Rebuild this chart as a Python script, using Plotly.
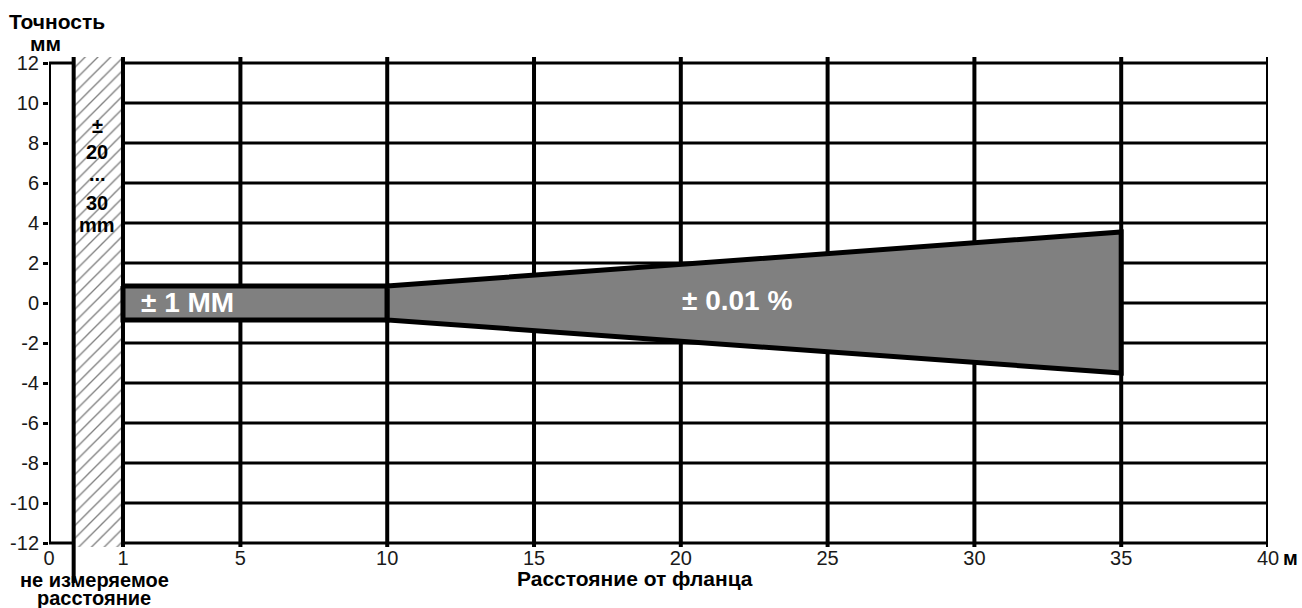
import plotly.graph_objects as go

# ---- data ----
x_tick_values = [0, 1, 5, 10, 15, 20, 25, 30, 35, 40]
x_tick_labels = ["0", "1", "5", "10", "15", "20", "25", "30", "35", "40"]
y_tick_values = [-12, -10, -8, -6, -4, -2, 0, 2, 4, 6, 8, 10, 12]
y_tick_labels = ["-12", "-10", "-8", "-6", "-4", "-2", "0", "2", "4", "6", "8", "10", "12"]

band_x = [1, 10]          # ± 1 mm zone (m)
band_half = [0.85, 0.85]  # half-width as drawn (mm)
cone_x = [10, 35]         # ± 0.01 % zone (m)
cone_upper = [0.85, 3.55]
cone_lower = [-0.85, -3.5]
dead_zone = [0, 1]        # not measurable distance (m)

# ---- display scale: 0..1 m shown stretched ----
STRETCH = 2.52
def xd(v):
    return v if v >= 1 else 1 - (1 - v) * STRETCH

X_MIN, X_MAX = xd(0), 40
HATCH_LEFT = -0.68
Y_MIN, Y_MAX = -12.3, 12.4

W, H = 1302, 608
ML, MR, MT, MB = 49, 34, 55, 59
PW, PH = W - ML - MR, H - MT - MB

def px(x):
    return (x - ML) / PW
def py(y):
    return (MT + PH - y) / PH
def dpx(d):
    return (d - X_MIN) / (X_MAX - X_MIN)

FONT = "Arial, Liberation Sans, sans-serif"

fig = go.Figure()

# hatched non-measurable zone
fig.add_trace(go.Scatter(
    x=[HATCH_LEFT, xd(dead_zone[1]), xd(dead_zone[1]), HATCH_LEFT, HATCH_LEFT],
    y=[-12.2, -12.2, 12.3, 12.3, -12.2],
    mode="lines", fill="toself", line=dict(width=0, color="rgba(0,0,0,0)"),
    fillcolor="white",
    fillpattern=dict(shape="/", fgcolor="#000000", bgcolor="white", size=9, solidity=0.15),
    hoverinfo="skip", showlegend=False))

# ± 1 mm band
fig.add_trace(go.Scatter(
    x=[band_x[0], band_x[1], band_x[1], band_x[0], band_x[0]],
    y=[band_half[0], band_half[1], -band_half[1], -band_half[0], band_half[0]],
    mode="lines", fill="toself", fillcolor="#808080",
    line=dict(color="black", width=5), hoverinfo="skip", showlegend=False))

# ± 0.01 % cone
fig.add_trace(go.Scatter(
    x=[cone_x[0], cone_x[1], cone_x[1], cone_x[0], cone_x[0]],
    y=[cone_upper[0], cone_upper[1], cone_lower[1], cone_lower[0], cone_upper[0]],
    mode="lines", fill="toself", fillcolor="#808080",
    line=dict(color="black", width=5), hoverinfo="skip", showlegend=False))

shapes = []
for yv in y_tick_values:
    shapes.append(dict(type="line", xref="x", yref="y", x0=1, x1=40, y0=yv, y1=yv,
                       line=dict(color="black", width=3), layer="below"))
for yv in (-12, 12):
    shapes.append(dict(type="line", xref="x", yref="y", x0=X_MIN, x1=HATCH_LEFT, y0=yv, y1=yv,
                       line=dict(color="black", width=3), layer="below"))
for xv in x_tick_values[1:]:
    shapes.append(dict(type="line", xref="x", yref="y", x0=xd(xv), x1=xd(xv), y0=-12.2, y1=12.3,
                       line=dict(color="black", width=4),
                       layer="above" if xv == 1 else "below"))
shapes.append(dict(type="line", xref="x", yref="y", x0=X_MIN, x1=X_MIN, y0=-12, y1=12,
                   line=dict(color="black", width=4), layer="above"))
shapes.append(dict(type="line", xref="paper", yref="paper",
                   x0=dpx(HATCH_LEFT), x1=dpx(HATCH_LEFT), y0=py(583), y1=py(57),
                   line=dict(color="black", width=4), layer="above"))

annotations = [
    dict(text="<b>Точность</b>", x=px(57), y=py(22), size=21),
    dict(text="<b>мм</b>", x=px(45), y=py(43), size=21),
    dict(text="<b>±</b>", x=px(97), y=py(126), size=20),
    dict(text="<b>20</b>", x=px(97), y=py(152), size=20),
    dict(text="<b>...</b>", x=px(97), y=py(174), size=20),
    dict(text="<b>30</b>", x=px(97), y=py(203), size=20),
    dict(text="<b>mm</b>", x=px(97), y=py(225), size=20),
    dict(text="<b>± 1 MM</b>", x=px(187), y=py(302), size=28, color="white"),
    dict(text="<b>± 0.01 %</b>", x=px(737), y=py(300), size=28, color="white"),
    dict(text="<b>м</b>", x=px(1290), y=py(558), size=20),
    dict(text="<b>Расстояние от фланца</b>", x=px(635), y=py(578), size=21),
    dict(text="<b>не измеряемое</b>", x=px(94), y=py(580), size=20),
    dict(text="<b>расстояние</b>", x=px(94), y=py(598), size=20),
]
for a in annotations:
    size = a.pop("size")
    color = a.pop("color", "black")
    a.update(xref="paper", yref="paper", showarrow=False, xanchor="center", yanchor="middle",
             font=dict(family=FONT, color=color, size=size))

fig.update_layout(
    width=W, height=H,
    margin=dict(l=ML, r=MR, t=MT, b=MB, autoexpand=False),
    paper_bgcolor="white", plot_bgcolor="white",
    font=dict(family=FONT, size=20, color="#1a1a1a"),
    shapes=shapes, annotations=annotations,
    xaxis=dict(range=[X_MIN, X_MAX], tickvals=[xd(v) for v in x_tick_values],
               ticktext=x_tick_labels, ticks="", showgrid=False, zeroline=False,
               showline=False, fixedrange=True, automargin=False, ticklabelstandoff=-5,
               tickfont=dict(size=20, color="#1a1a1a")),
    yaxis=dict(range=[Y_MIN, Y_MAX], tickvals=y_tick_values, ticktext=y_tick_labels,
               ticks="outside", ticklen=5, tickwidth=3, tickcolor="black", automargin=False,
               showgrid=False, zeroline=False, showline=False, fixedrange=True,
               tickfont=dict(size=20, color="#1a1a1a")),
    showlegend=False,
)

fig.write_html("out.html", config={"displayModeBar": False},
               post_script="document.body.style.margin='0';document.body.style.overflow='hidden';")
